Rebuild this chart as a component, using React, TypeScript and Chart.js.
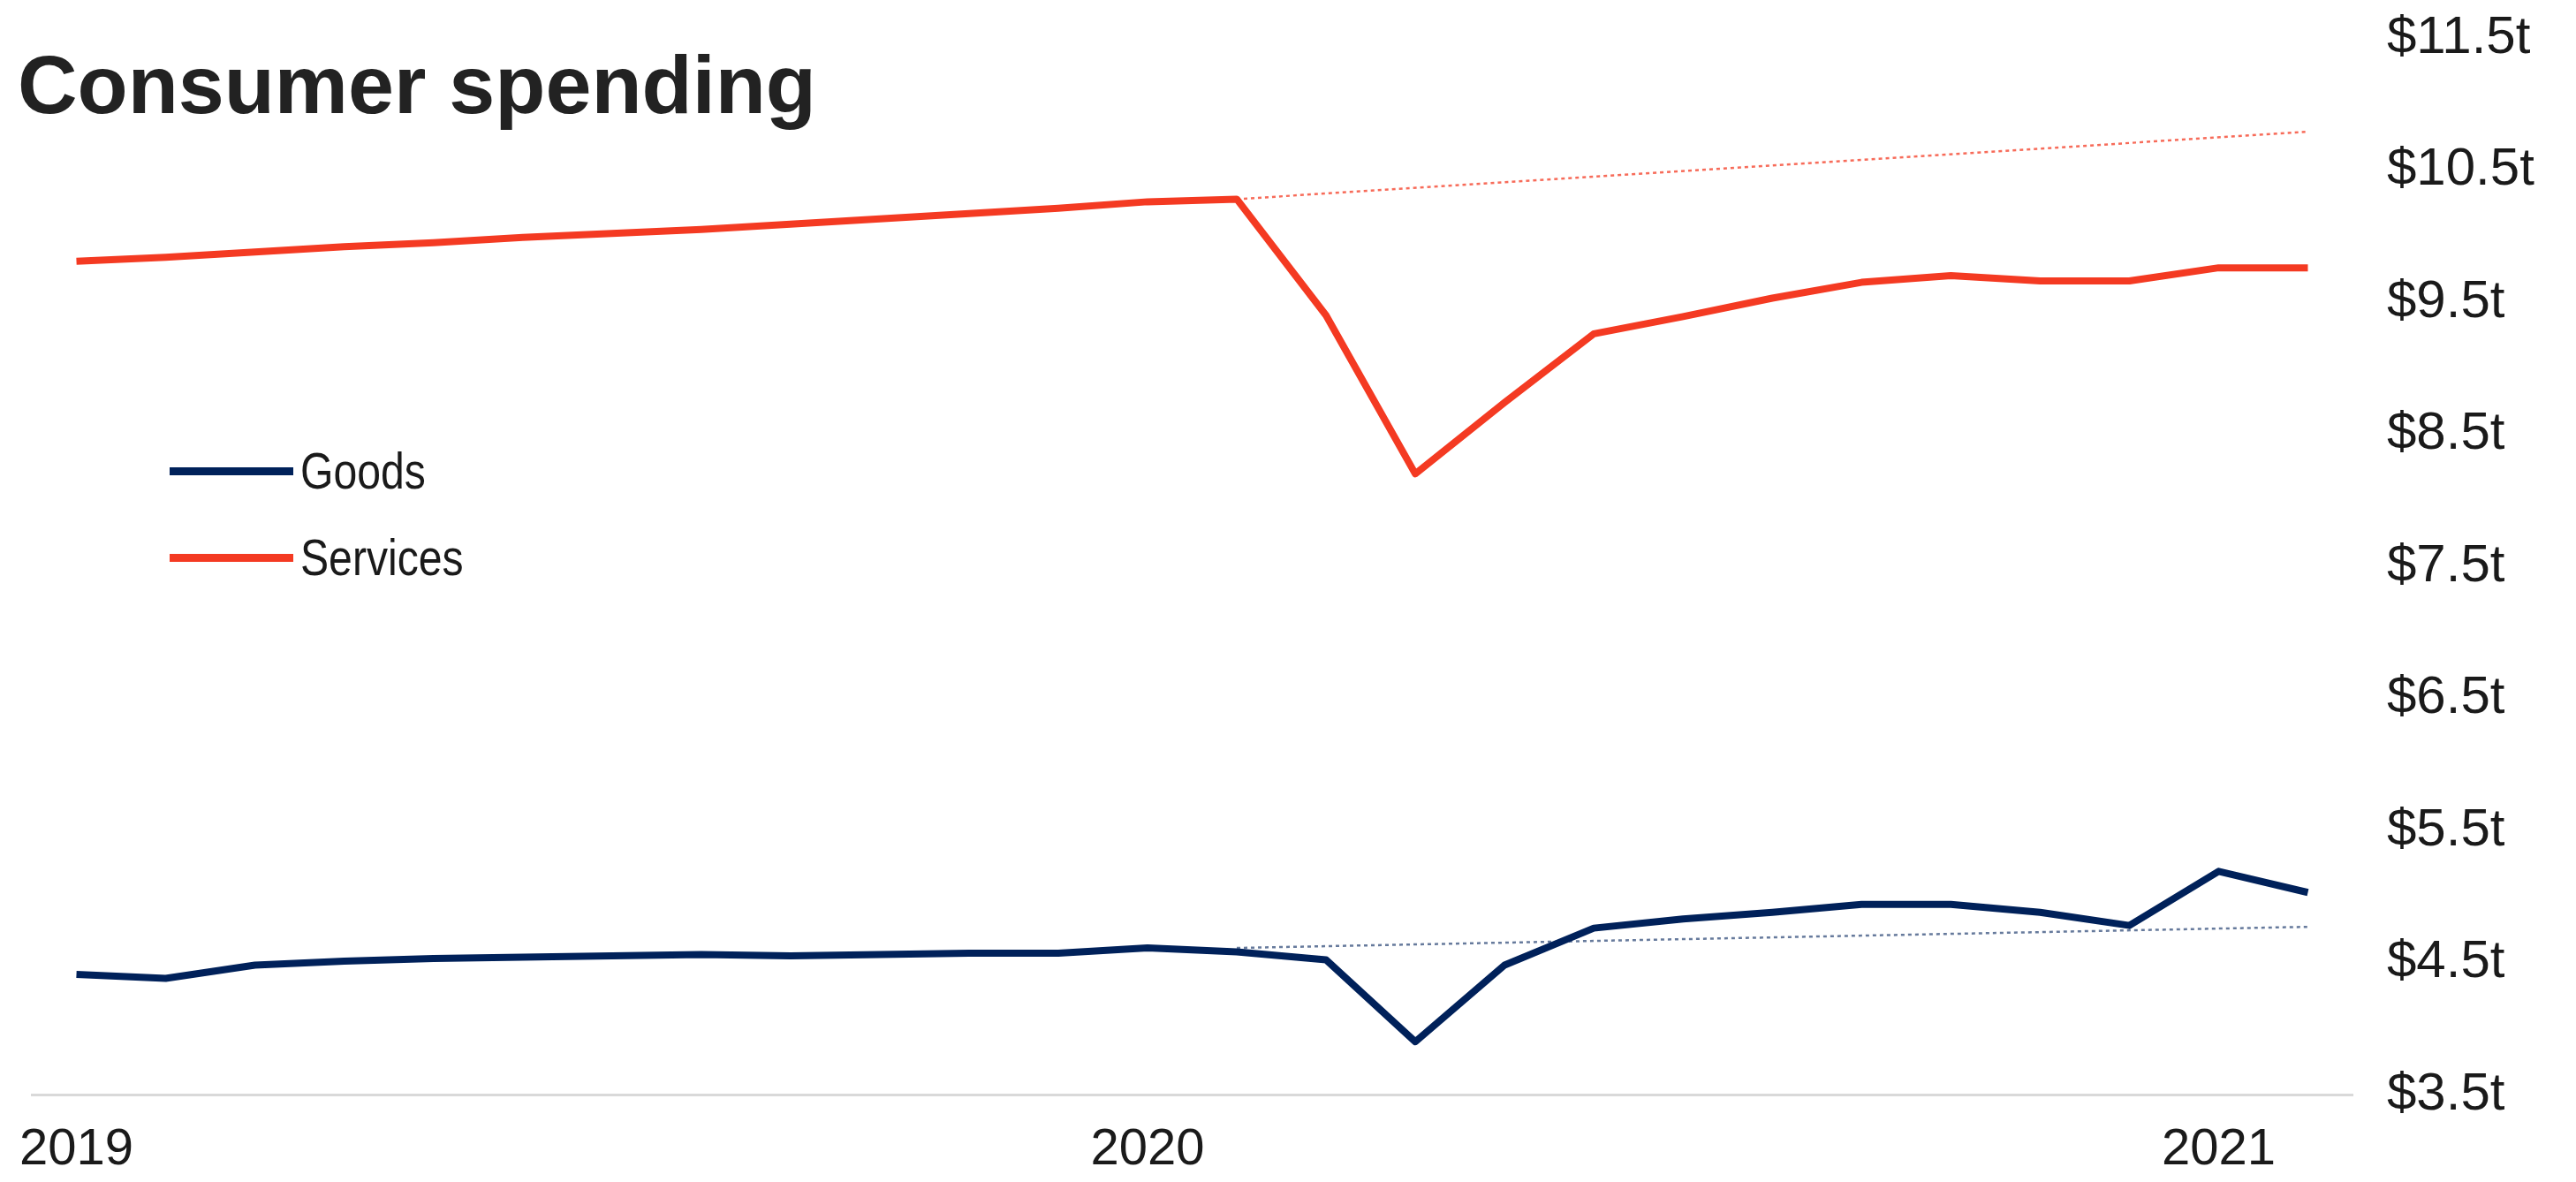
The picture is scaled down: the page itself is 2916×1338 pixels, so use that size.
import React, { useEffect, useRef } from "react";
import { Chart, registerables } from "chart.js";

Chart.register(...registerables);

const months: string[] = [
  "2019-01", "2019-02", "2019-03", "2019-04", "2019-05", "2019-06",
  "2019-07", "2019-08", "2019-09", "2019-10", "2019-11", "2019-12",
  "2020-01", "2020-02", "2020-03", "2020-04", "2020-05", "2020-06",
  "2020-07", "2020-08", "2020-09", "2020-10", "2020-11", "2020-12",
  "2021-01", "2021-02",
];

const goods: number[] = [
  4.41, 4.38, 4.48, 4.51, 4.53, 4.54, 4.55, 4.56, 4.55, 4.56, 4.57, 4.57,
  4.61, 4.58, 4.52, 3.90, 4.48, 4.76, 4.83, 4.88, 4.94, 4.94, 4.88, 4.78,
  5.19, 5.03,
];

const services: number[] = [
  9.81, 9.84, 9.88, 9.92, 9.95, 9.99, 10.02, 10.05, 10.09, 10.13, 10.17, 10.21,
  10.26, 10.28, 9.40, 8.20, 8.74, 9.26, 9.39, 9.53, 9.65, 9.70, 9.66, 9.66,
  9.76, 9.76,
];

const goodsTrend: (number | null)[] = [
  null, null, null, null, null, null, null, null, null, null, null, null,
  null, 4.61, null, null, null, null, null, null, null, null, null, null,
  null, 4.77,
];

const servicesTrend: (number | null)[] = [
  null, null, null, null, null, null, null, null, null, null, null, null,
  null, 10.28, null, null, null, null, null, null, null, null, null, null,
  null, 10.79,
];

const yTicks: number[] = [3.5, 4.5, 5.5, 6.5, 7.5, 8.5, 9.5, 10.5, 11.5];

const seriesNames = ["Goods", "Services"];
const RED = "#F43A22";
const NAVY = "#00215A";

export default function App() {
  const ref = useRef<HTMLCanvasElement | null>(null);

  useEffect(() => {
    if (!ref.current) return;
    const chart = new Chart(ref.current, {
      type: "line",
      data: {
        labels: months,
        datasets: [
          {
            label: "Services trend",
            data: servicesTrend,
            borderColor: "rgba(244,58,34,0.75)",
            borderWidth: 2.5,
            borderDash: [4, 4],
            pointRadius: 0,
            spanGaps: true,
            tension: 0,
          },
          {
            label: "Goods trend",
            data: goodsTrend,
            borderColor: "rgba(0,33,90,0.6)",
            borderWidth: 2.5,
            borderDash: [4, 4],
            pointRadius: 0,
            spanGaps: true,
            tension: 0,
          },
          {
            label: seriesNames[1],
            data: services,
            borderColor: RED,
            borderWidth: 8,
            pointRadius: 0,
            tension: 0,
            borderJoinStyle: "round",
          },
          {
            label: seriesNames[0],
            data: goods,
            borderColor: NAVY,
            borderWidth: 8,
            pointRadius: 0,
            tension: 0,
            borderJoinStyle: "round",
          },
        ],
      },
      options: {
        animation: false,
        responsive: false,
        maintainAspectRatio: false,
        layout: { padding: { left: 28, top: 35, right: 0, bottom: 0 } },
        plugins: {
          legend: { display: false },
          title: { display: false },
          tooltip: { enabled: false },
        },
        scales: {
          x: {
            type: "category",
            offset: true,
            grid: { display: false, drawTicks: false },
            border: { display: true, color: "#d9d9d9", width: 3 },
            ticks: {
              autoSkip: false,
              maxRotation: 0,
              padding: 28,
              color: "#1a1a1a",
              font: { family: "'Liberation Sans', Arial, sans-serif", size: 58 },
              callback: function (_v: any, i: number) {
                const m = months[i];
                return m.endsWith("-01") ? m.slice(0, 4) : "";
              },
            },
            afterFit: (scale: any) => {
              scale.height = 91;
              scale.paddingLeft = 0;
              scale.paddingRight = 0;
            },
          },
          y: {
            position: "right",
            min: yTicks[0],
            max: yTicks[yTicks.length - 1],
            grid: { display: false, drawTicks: false },
            border: { display: false },
            afterBuildTicks: (scale: any) => {
              scale.ticks = yTicks.map((v) => ({ value: v }));
            },
            ticks: {
              padding: 39,
              color: "#1a1a1a",
              font: { family: "'Liberation Sans', Arial, sans-serif", size: 60 },
              callback: (v: any) => "$" + v + "t",
            },
            afterFit: (scale: any) => {
              scale.width = 245;
              scale.paddingTop = 0;
              scale.paddingBottom = 0;
            },
          },
        },
      },
    });
    return () => chart.destroy();
  }, []);

  const legendRow = (name: string, color: string, top: number) => (
    <div
      key={name}
      style={{
        position: "absolute",
        left: 184,
        top,
        height: 58,
        display: "flex",
        alignItems: "center",
      }}
    >
      <div style={{ width: 140, height: 9, background: color }} />
      <div
        style={{
          marginLeft: 8,
          fontFamily: "'Liberation Sans', Arial, sans-serif",
          fontSize: 58,
          lineHeight: "58px",
          color: "#1a1a1a",
          transform: "scaleX(0.83)",
          transformOrigin: "left center",
          whiteSpace: "nowrap",
        }}
      >
        {name}
      </div>
    </div>
  );

  return (
    <div style={{ position: "relative", width: 2900, height: 1322 }}>
      <canvas ref={ref} width={2900} height={1322} style={{ display: "block", width: 2900, height: 1322 }} />
      <div
        style={{
          position: "absolute",
          left: 12,
          top: 41,
          fontFamily: "'Liberation Sans', Arial, sans-serif",
          fontWeight: "bold",
          fontSize: 93.5,
          lineHeight: "93.5px",
          color: "#222222",
          whiteSpace: "nowrap",
        }}
      >
        Consumer spending
      </div>
      {legendRow(seriesNames[0], NAVY, 496)}
      {legendRow(seriesNames[1], RED, 594)}
    </div>
  );
}
